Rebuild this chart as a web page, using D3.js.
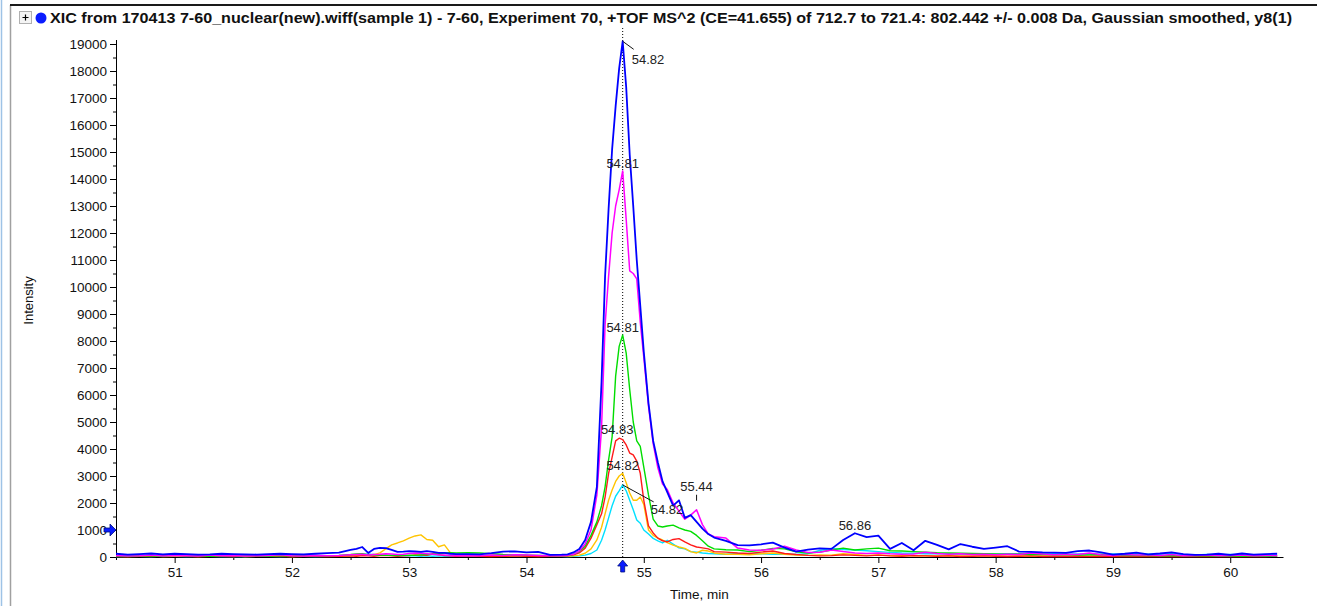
<!DOCTYPE html>
<html><head><meta charset="utf-8">
<script src="https://cdn.jsdelivr.net/npm/d3@7"></script>
<style>body{margin:0;background:#fff;overflow:hidden}svg{display:block}</style>
</head><body><svg id="c" width="1317" height="606"></svg>
<script>
// ---------- data ----------
const titleText = "XIC from 170413 7-60_nuclear(new).wiff(sample 1) - 7-60, Experiment 70, +TOF MS^2 (CE=41.655) of 712.7 to 721.4: 802.442 +/- 0.008 Da, Gaussian smoothed, y8(1)";
const xLabel = "Time, min";
const yLabel = "Intensity";
const xTicks = [51, 52, 53, 54, 55, 56, 57, 58, 59, 60];
const yTicks = [0,1000,2000,3000,4000,5000,6000,7000,8000,9000,10000,11000,12000,13000,14000,15000,16000,17000,18000,19000];

const times = [
 50.5,50.6,50.7,50.8,50.9,51.0,51.1,51.2,51.3,51.4,51.5,51.6,51.7,51.8,51.9,52.0,52.1,52.2,52.3,
 52.4,52.5,52.55,52.6,52.65,52.7,52.75,52.8,52.85,52.9,52.95,53.0,53.05,53.1,53.15,53.2,53.25,53.3,53.35,53.4,
 53.5,53.6,53.7,53.8,53.9,54.0,54.1,54.2,54.3,
 54.35,54.4,54.45,54.5,54.55,54.6,54.64,54.67,54.7,54.73,54.76,54.79,54.82,54.85,54.88,54.91,54.94,54.97,55.0,55.04,55.08,55.12,55.16,55.2,55.25,55.3,55.35,55.4,55.45,55.5,55.55,55.6,55.7,
 55.8,55.9,56.0,56.1,56.2,56.3,56.4,56.5,56.6,56.7,56.8,56.9,57.0,57.1,57.2,57.3,57.4,57.5,57.6,57.7,57.8,57.9,58.0,58.1,58.2,58.3,58.4,58.5,58.6,58.7,58.8,58.9,59.0,59.1,59.2,59.3,59.4,59.5,59.6,59.7,59.8,59.9,60.0,60.1,60.2,60.3,60.4
];

const blue = [
 120,90,110,130,100,120,110,90,100,120,110,100,90,110,120,110,100,120,140,
 160,260,300,370,150,300,340,330,260,190,200,220,210,190,220,190,150,150,120,110,
 110,100,140,200,210,170,190,80,90,
 100,170,300,630,1300,2600,6500,10400,12900,15100,16700,18100,19100,17400,14900,13000,11000,9300,7600,5700,4300,3500,2800,2400,1900,2100,1450,1550,1300,1050,850,720,600,
 440,430,470,530,350,200,270,320,300,630,880,740,790,300,520,250,600,450,280,480,380,300,350,400,200,190,170,160,150,220,240,170,90,120,160,100,130,170,110,80,90,120,80,130,90,110,120
];
const magenta = [
 60,40,50,70,40,60,50,40,70,50,60,40,50,60,80,50,40,60,50,
 60,80,90,100,70,90,100,120,110,90,100,130,150,140,120,100,80,70,60,50,
 60,50,70,60,80,70,60,50,50,
 60,100,220,480,1000,2300,4800,8600,10400,12000,13000,13600,14300,12500,10600,10500,10300,8700,7400,5600,4200,3300,2700,2500,2000,1700,1400,1550,1750,1200,850,750,700,
 330,260,250,300,400,260,170,180,260,200,150,130,150,120,100,110,180,130,100,120,90,100,80,100,90,150,110,80,100,90,150,80,60,90,70,80,60,90,50,60,70,50,60,70,50,60,50
];
const green = [
 40,30,50,40,30,60,40,50,30,40,50,60,40,30,50,40,60,50,40,
 60,90,110,120,90,80,70,60,60,50,60,70,60,80,90,100,120,150,160,150,
 160,150,120,90,80,70,60,50,40,
 50,100,200,400,800,1300,1900,2600,3600,4450,6700,7800,8220,7550,6200,5000,4300,4100,3330,2300,1400,1150,1110,1150,1180,1080,1000,950,800,600,400,300,270,
 260,200,250,320,300,190,150,180,260,330,260,300,330,230,220,200,180,160,150,140,130,120,110,100,110,90,100,80,90,70,80,90,60,50,60,50,40,50,40,50,40,30,40,30,40,30,30
];
const red = [
 30,20,40,30,60,80,30,20,40,30,20,50,30,40,30,20,40,30,20,
 30,40,30,50,40,30,50,60,40,30,40,50,80,70,60,120,90,50,40,30,
 40,30,20,30,40,30,20,30,40,
 40,80,150,330,700,1200,1600,2220,3100,3700,4300,4400,4350,4150,3850,3780,3550,3100,2100,1150,890,700,600,560,650,680,560,450,370,340,300,200,180,
 150,130,180,220,130,90,60,40,50,80,60,40,70,40,30,50,40,30,40,20,30,40,30,20,30,40,20,30,20,30,20,30,20,30,20,30,20,20,30,20,20,30,20,30,20,20,30
];
const yellow = [
 30,20,25,40,20,30,35,20,25,30,40,20,30,25,35,20,30,40,25,
 30,40,50,60,70,90,150,300,450,520,600,700,780,820,650,620,380,450,160,80,
 60,40,50,30,40,50,30,40,30,
 30,40,70,140,300,630,1100,1600,2100,2480,2800,3000,3100,2750,2370,2100,2100,2220,1950,1000,800,700,630,530,440,370,320,200,150,250,220,150,100,
 100,80,120,150,100,70,60,80,70,120,90,60,80,50,60,40,50,40,50,40,30,40,50,30,40,30,40,30,30,40,30,40,30,30,40,30,30,40,30,30,40,30,30,40,30,30,30
];
const cyan = [
 20,30,25,20,35,25,20,30,25,20,30,20,25,30,20,25,30,20,25,
 40,60,80,90,100,90,80,70,60,50,40,50,40,30,40,30,40,30,30,40,
 30,40,30,50,40,30,40,30,30,
 20,30,40,70,130,260,620,1000,1450,1900,2250,2450,2670,2450,2100,1750,1370,1250,1000,850,690,600,520,620,480,340,300,200,180,150,130,120,100,
 130,110,120,100,110,90,120,240,320,280,260,230,200,170,150,140,120,130,110,120,100,110,100,120,110,130,110,120,100,110,120,100,110,100,120,100,110,130,90,80,90,80,90,80,70,80,70
];

const seriesNames = ["cyan", "yellow", "red", "green", "magenta", "blue"];
const seriesValues = [cyan, yellow, red, green, magenta, blue];

// peak annotations
const annTime  = [54.82, 54.82, 54.82, 54.79, 54.82, 54.82, 55.45, 56.8];
const annValue = [19100, 14300, 8220, 4400, 3100, 2670, 1750, 880];
const annText  = ["54.82", "54.81", "54.81", "54.83", "54.82", "54.82", "55.44", "56.86"];
const markerTime = 54.82;   // dotted marker / bottom arrow
const markerLevel = 1000;   // left arrow

// ---------- styles ----------
const colors = {cyan:"#00e0ff", yellow:"#ffc400", red:"#ff1a1a", green:"#00dd00", magenta:"#ff00ff", blue:"#0000ff"};
const widths = {cyan:1.4, yellow:1.4, red:1.4, green:1.4, magenta:1.5, blue:1.8};
const FONT = "'Liberation Sans', Arial, sans-serif";

const svg = d3.select("#c");
const x = d3.scaleLinear().domain([50.5, 60.45]).range([116, 1283]);
const y = d3.scaleLinear().domain([0, 19000]).range([557, 44]);

// frame
svg.append("line").attr("x1",1.5).attr("x2",1.5).attr("y1",0).attr("y2",606).attr("stroke","#9ec3e6").attr("stroke-width",1.5);
svg.append("line").attr("x1",10.5).attr("x2",10.5).attr("y1",5).attr("y2",606).attr("stroke","#a0a0a0").attr("stroke-width",1.5);
svg.append("line").attr("x1",10).attr("x2",1317).attr("y1",5).attr("y2",5).attr("stroke","#1a1a1a").attr("stroke-width",2);

// title widgets
svg.append("rect").attr("x",19.5).attr("y",11.5).attr("width",12).attr("height",12).attr("fill","#f4f4f4").attr("stroke","#b0b0b0");
svg.append("path").attr("d","M22.5,17.5H28.5M25.5,14.5V20.5").attr("stroke","#000").attr("stroke-width",1.2);
svg.append("circle").attr("cx",41).attr("cy",18).attr("r",5.5).attr("fill","#0a1cff");
svg.append("text").attr("x",50).attr("y",23).attr("font-family","'Liberation Sans Narrow','Arial Narrow','Liberation Sans',sans-serif")
  .attr("font-weight","bold").attr("font-size",14).attr("fill","#111")
  .attr("textLength",1242).attr("lengthAdjust","spacingAndGlyphs").text(titleText);

// axes
const yAxis = svg.append("g").attr("transform",`translate(${x.range()[0]},0)`)
  .call(d3.axisLeft(y).tickValues(yTicks).tickSize(6).tickSizeOuter(0).tickPadding(3).tickFormat(d3.format("d")));
const yMinor = d3.range(500, 19000, 1000);
svg.append("g").attr("transform",`translate(${x.range()[0]},0)`)
  .call(d3.axisLeft(y).tickValues(yMinor).tickSize(3).tickFormat("")).select(".domain").remove();
yAxis.select(".domain").attr("d",`M0.5,40V${y(0)+0.5}`);

const xAxis = svg.append("g").attr("transform",`translate(0,${y(0)})`)
  .call(d3.axisBottom(x).tickValues(xTicks).tickSize(6).tickSizeOuter(0).tickPadding(4).tickFormat(d3.format("d")));
const xMinor = d3.range(50.5, 60.5, 1);
svg.append("g").attr("transform",`translate(0,${y(0)})`)
  .call(d3.axisBottom(x).tickValues(xMinor).tickSize(3).tickFormat("")).select(".domain").remove();

svg.selectAll(".tick text").attr("font-family",FONT).attr("font-size",13.5).attr("fill","#111");
svg.selectAll(".domain, .tick line").attr("stroke","#000");

svg.append("text").attr("transform",`translate(33,${(y(0)+y(19000))/2}) rotate(-90)`).attr("text-anchor","middle")
  .attr("font-family",FONT).attr("font-size",13).attr("fill","#111").text(yLabel);
svg.append("text").attr("x",(x.range()[0]+x.range()[1])/2).attr("y",599).attr("text-anchor","middle")
  .attr("font-family",FONT).attr("font-size",13.5).attr("fill","#111").text(xLabel);

// marker dotted line
svg.append("line").attr("x1",x(markerTime)).attr("x2",x(markerTime)).attr("y1",28).attr("y2",y(0))
  .attr("stroke","#000").attr("stroke-width",1).attr("stroke-dasharray","1,2");

// series lines
const line = d3.line().x((d,i)=>x(times[i])).y(d=>y(d));
seriesNames.forEach((n,k)=>{
  svg.append("path").datum(seriesValues[k]).attr("d",line).attr("fill","none")
    .attr("stroke",colors[n]).attr("stroke-width",widths[n]).attr("stroke-linejoin","round");
});

// annotations
const annG = svg.append("g").attr("font-family",FONT).attr("font-size",13).attr("fill","#222");
annTime.forEach((t,i)=>{
  const px = x(t), py = y(annValue[i]);
  if (i === 0) {
    annG.append("line").attr("x1",px).attr("y1",py).attr("x2",px+11).attr("y2",py+8).attr("stroke","#111");
    annG.append("text").attr("x",px+9).attr("y",py+23).text(annText[i]);
  } else if (i === 5) {
    annG.append("line").attr("x1",px).attr("y1",py).attr("x2",px+31).attr("y2",py+17).attr("stroke","#111");
    annG.append("text").attr("x",px+28).attr("y",py+29).text(annText[i]);
  } else if (i === 6) {
    annG.append("line").attr("x1",px).attr("y1",py-15).attr("x2",px).attr("y2",py-9).attr("stroke","#111");
    annG.append("text").attr("x",px).attr("y",py-19).attr("text-anchor","middle").text(annText[i]);
  } else if (i === 3) {
    annG.append("text").attr("x",px-2).attr("y",py-4).attr("text-anchor","middle").text(annText[i]);
  } else {
    annG.append("text").attr("x",px).attr("y",py-3).attr("text-anchor","middle").text(annText[i]);
  }
});

// arrows
const ax = x(markerTime), ay = y(0);
svg.append("path").attr("d",`M${ax},${ay+3} L${ax+5},${ay+9} L${ax+2},${ay+9} L${ax+2},${ay+15} L${ax-2},${ay+15} L${ax-2},${ay+9} L${ax-5},${ay+9} Z`)
  .attr("fill","#0a1cff").attr("stroke","#001080").attr("stroke-width",0.8);
const ly = y(markerLevel), lx = x.range()[0];
svg.append("path").attr("d",`M${lx},${ly} L${lx-6},${ly-6} L${lx-6},${ly-2} L${lx-12},${ly-2} L${lx-12},${ly+2} L${lx-6},${ly+2} L${lx-6},${ly+6} Z`)
  .attr("fill","#0a1cff").attr("stroke","#001080").attr("stroke-width",0.8);
</script></body></html>
